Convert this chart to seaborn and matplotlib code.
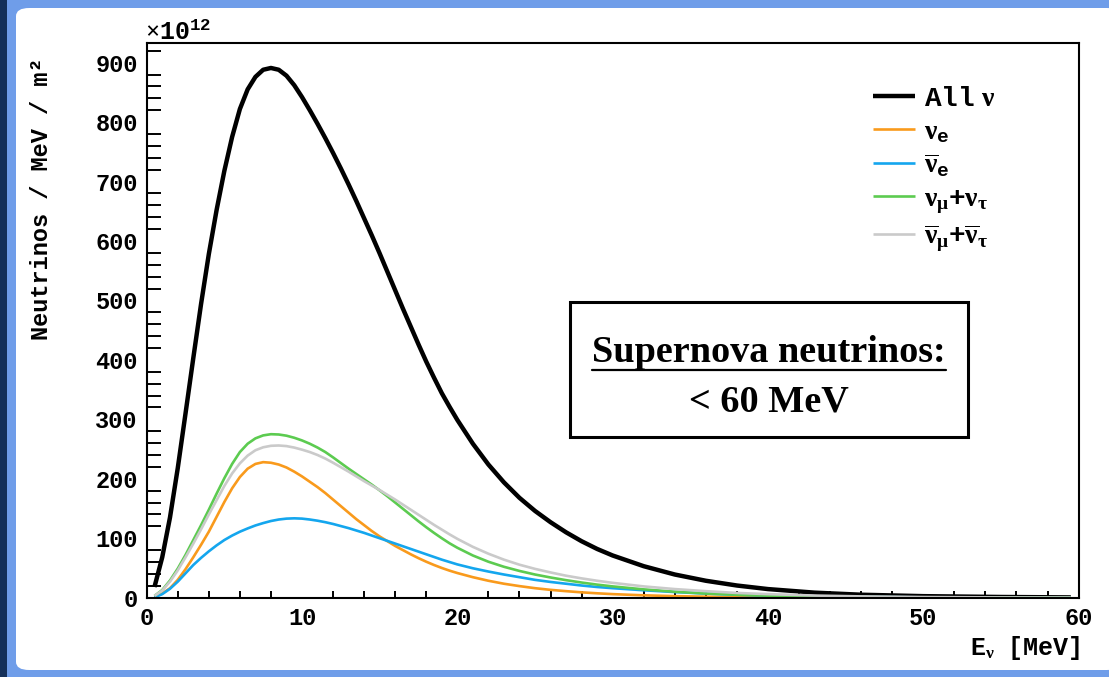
import numpy as np
import pandas as pd
import matplotlib
matplotlib.use("Agg")
import matplotlib.pyplot as plt
import matplotlib.patches as mpatches
from matplotlib.lines import Line2D
from matplotlib.ticker import MultipleLocator
import seaborn as sns

# ---------------- data ----------------
energy = [0.5, 1, 1.5, 2, 2.5, 3, 3.5, 4, 4.5, 5, 5.5, 6, 6.5, 7, 7.5, 8, 8.5, 9, 9.5, 10,
          10.5, 11, 11.5, 12, 12.5, 13, 13.5, 14, 14.5, 15, 15.5, 16, 16.5, 17, 17.5, 18, 18.5, 19, 19.5, 20,
          21, 22, 23, 24, 25, 26, 27, 28, 29, 30, 32, 34, 36, 38, 40, 43, 46, 50, 55, 59.5]

all_nu = [18, 68, 135, 218, 310, 403, 494, 578, 652, 718, 775, 822, 855, 876, 888, 891, 888, 878, 862, 842,
          820, 797, 773, 748, 722, 695, 667, 638, 609, 579, 548, 517, 486, 456, 426, 397, 370, 344, 321, 299,
          259, 224, 194, 168, 146, 127, 110, 95, 82, 71, 53, 39, 28.5, 20.5, 14.5, 8.5, 5, 2.6, 1.2, 0.5]

nu_e = [1.5, 7, 16, 30, 48, 68, 89, 111, 136, 161, 184, 203, 217, 225, 228, 227, 224, 219, 212, 204,
        195, 186, 176, 165, 154, 143, 132, 122, 112, 103, 95, 87, 80, 73, 66.5, 60.5, 55, 50, 45.5, 41.5,
        34.5, 28.5, 23.5, 19.5, 16, 13.2, 11, 9, 7.4, 6, 4, 2.6, 1.7, 1.1, 0.7, 0.35, 0.18, 0.08, 0.03, 0.01]

nu_e_bar = [0.5, 6, 15, 27, 41, 55, 67, 78, 88, 97, 104.5, 111, 116.5, 121.5, 125.5, 129, 131.5, 133, 133.5, 133,
            131.5, 129.5, 127, 124, 120.5, 117, 113, 109, 104.5, 100, 95.5, 91, 86.5, 82, 77.5, 73, 68.5, 64, 60, 56,
            49.5, 44, 39, 34.5, 30, 26.5, 23.5, 20.5, 18, 16, 12.5, 9.5, 7, 5, 3.6, 2.2, 1.3, 0.6, 0.25, 0.1]

nu_mu_tau = [3, 13, 29, 49, 72, 97, 122, 148, 175, 201, 225, 245, 259, 268, 273, 275, 274.5, 272.5, 269, 264.5,
             259, 252.5, 245, 236, 226.5, 217, 208, 199, 190, 180.5, 170.5, 160, 149.5, 139, 128.5, 118.5, 109, 100, 91.5, 84,
             71, 60.5, 52, 45, 39, 34, 29.5, 25.5, 22, 19, 14, 10, 7, 5, 3.4, 1.9, 1.1, 0.5, 0.2, 0.06]

nu_mu_tau_bar = [3, 12, 27, 46, 68, 91, 115, 140, 164, 188, 209, 226, 239, 248, 253, 255.5, 256, 255, 252.5, 249,
                 245, 240, 234, 227, 219.5, 212, 204, 196, 188.5, 181, 173, 165, 156.5, 148, 139.5, 131, 122.5, 114.5, 106.5, 99,
                 85.5, 74, 64, 55.5, 48.5, 42.5, 37, 32.5, 28.5, 25, 19, 14.5, 11, 8, 6, 3.6, 2.2, 1.1, 0.45, 0.15]

labels = [r'$\mathbf{All}\ \nu$',
          r'$\nu_{\mathbf{e}}$',
          r'$\overline{\nu}_{\mathbf{e}}$',
          r'$\nu_{\mu}\mathbf{+}\nu_{\tau}$',
          r'$\overline{\nu}_{\mu}\mathbf{+}\overline{\nu}_{\tau}$']
series = [all_nu, nu_e, nu_e_bar, nu_mu_tau, nu_mu_tau_bar]
colors = ['#000000', '#f99a1c', '#14a6ee', '#5ccb50', '#cacaca']
widths = [3.2, 1.9, 1.9, 1.9, 1.9]

x_ticks = [0, 10, 20, 30, 40, 50, 60]
y_ticks = [0, 100, 200, 300, 400, 500, 600, 700, 800, 900]

# ---------------- style ----------------
sns.set_theme(style="white")
plt.rcParams['font.family'] = ['Liberation Mono', 'DejaVu Sans']
plt.rcParams['font.weight'] = 'bold'
plt.rcParams['text.color'] = 'black'
plt.rcParams['axes.labelcolor'] = 'black'
plt.rcParams['xtick.color'] = 'black'
plt.rcParams['ytick.color'] = 'black'
plt.rcParams['mathtext.fontset'] = 'custom'
plt.rcParams['mathtext.rm'] = 'Liberation Serif'
plt.rcParams['mathtext.it'] = 'Liberation Serif'
plt.rcParams['mathtext.bf'] = 'Liberation Mono:bold'

W, H = 1109, 677
fig = plt.figure(figsize=(W / 100, H / 100), dpi=100)
fig.patch.set_facecolor('#6f9de9')

# slide background: dark strip + white panel
fig.patches.append(mpatches.Rectangle((0, 0), 7 / W, 1, transform=fig.transFigure,
                                      facecolor='#14305a', edgecolor='none', zorder=-5))
fig.patches.append(mpatches.FancyBboxPatch((16 / W, 1 - 670 / H), (W - 16) / W + 0.01, (670 - 8) / H,
                                           boxstyle="round,pad=0,rounding_size=0.012",
                                           transform=fig.transFigure, facecolor='white',
                                           edgecolor='none', zorder=-5))

ax_l, ax_r, ax_b, ax_t = 146.7, 1078.6, 597.7, 43.0
ax = fig.add_axes([ax_l / W, 1 - ax_b / H, (ax_r - ax_l) / W, (ax_b - ax_t) / H])
ax.set_facecolor('none')
ax.set_zorder(1)

for lab, vals, c, lw in zip(labels, series, colors, widths):
    d = pd.DataFrame({'E': energy, 'flux': vals})
    sns.lineplot(data=d, x='E', y='flux', ax=ax, color=c, linewidth=lw, label=lab,
                 solid_capstyle='butt', solid_joinstyle='round')

ax.set_xlim(0, 60)
ax.set_ylim(0, 933)
ax.set_xticks(x_ticks)
ax.set_yticks(y_ticks)
ax.xaxis.set_minor_locator(MultipleLocator(2))
ax.yaxis.set_minor_locator(MultipleLocator(20))
ax.set_xlabel('')
ax.set_ylabel('')
for s in ax.spines.values():
    s.set_linewidth(1.5)
    s.set_color('black')
ax.tick_params(axis='x', which='major', direction='in', length=10.8, width=1.4, pad=6.5,
               labelsize=17, colors='black')
ax.tick_params(axis='x', which='minor', direction='in', length=5.4, width=1.4, bottom=True)
ax.tick_params(axis='y', which='major', direction='in', length=20.9, width=1.4, pad=6.5,
               labelsize=17, colors='black')
ax.tick_params(axis='y', which='minor', direction='in', length=10, width=1.4, left=True)
for t in ax.get_xticklabels() + ax.get_yticklabels():
    t.set_fontweight('bold')

leg = ax.legend(loc='upper left', bbox_to_anchor=((873 - ax_l) / (ax_r - ax_l), (ax_b - 86) / (ax_b - ax_t)),
                frameon=False, fontsize=20, handlelength=1.5, handletextpad=0.35,
                labelspacing=0.24, borderpad=0, borderaxespad=0)

# axis titles
fig.text(42 / W, 1 - 57 / H, 'Neutrinos / MeV / m²', rotation=90, ha='center', va='top',
         fontsize=17, fontweight='bold', family='Liberation Mono')
fig.text(1080 / W, 1 - 655 / H, r'$\mathbf{E}_{\nu}\ \ \mathbf{[MeV]}$', ha='right', va='baseline',
         fontsize=18)
fig.text(145 / W, 1 - 40 / H, r'$\times\mathbf{10}^{\mathbf{12}}$', ha='left', va='baseline', fontsize=18)

# annotation box
fig.patches.append(mpatches.Rectangle((570 / W, 1 - 437 / H), 398 / W, 135 / H, transform=fig.transFigure,
                                      facecolor='white', edgecolor='black', linewidth=2.2, zorder=5))
t1 = fig.text(769 / W, 1 - 361.7 / H, 'Supernova neutrinos:', ha='center', va='baseline',
              fontsize=27.5, fontweight='bold', family='Liberation Serif', zorder=6)
fig.text(769 / W, 1 - 411.7 / H, '< 60 MeV', ha='center', va='baseline',
         fontsize=27.5, fontweight='bold', family='Liberation Serif', zorder=6)
fig.canvas.draw()
bb = t1.get_window_extent()
fig.add_artist(Line2D([bb.x0 / W, bb.x1 / W], [1 - 369.5 / H, 1 - 369.5 / H], transform=fig.transFigure,
                      color='black', linewidth=1.6, zorder=6))

fig.savefig('out.png', dpi=100, facecolor=fig.get_facecolor())
